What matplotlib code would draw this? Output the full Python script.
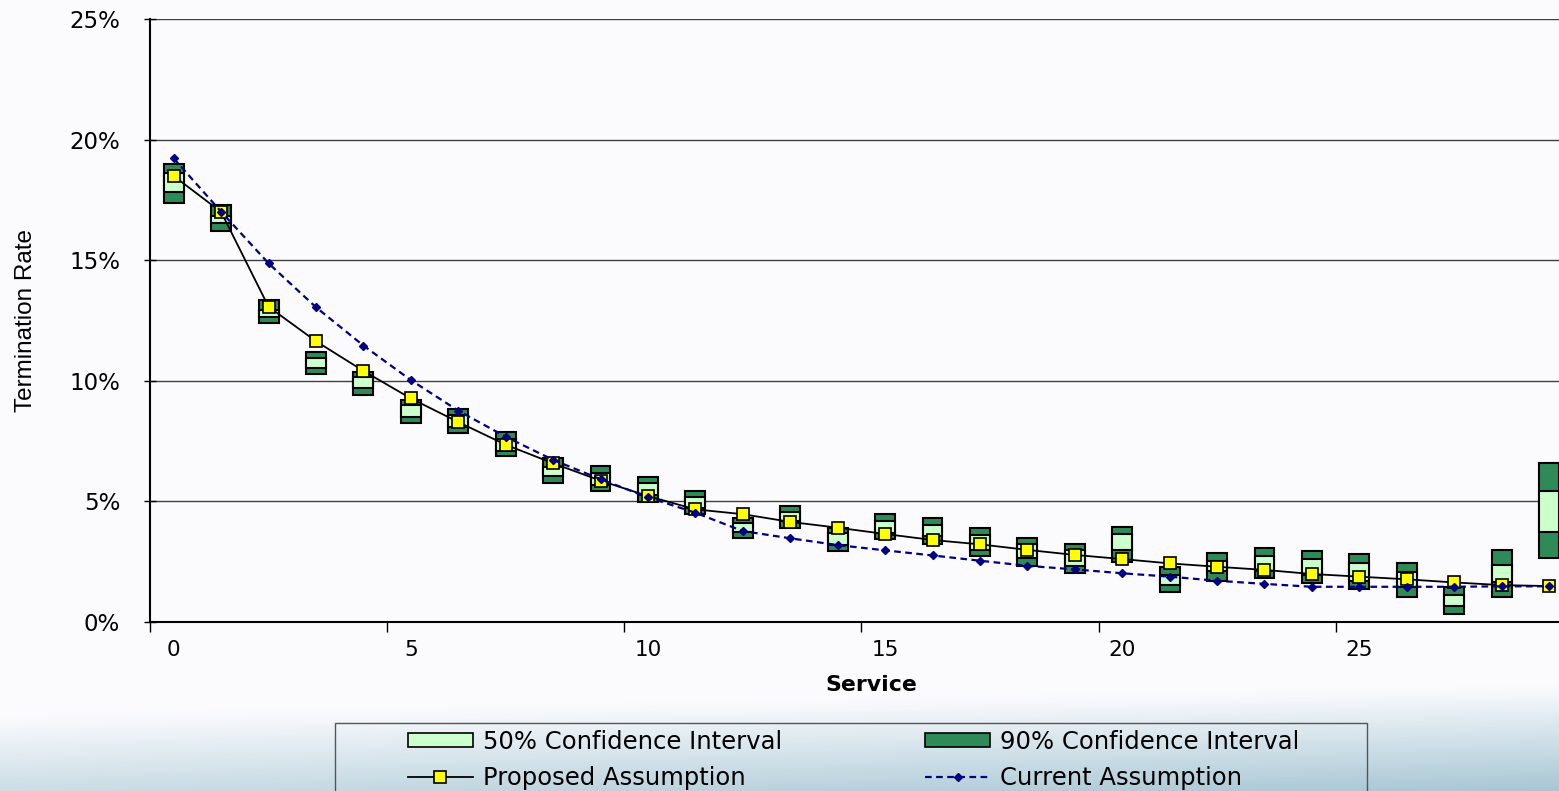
import numpy as np
import matplotlib
matplotlib.use('Agg')
from matplotlib import pyplot as plt
from matplotlib.patches import Patch, Rectangle
from matplotlib.lines import Line2D

# Data (termination rate in %)
service = np.arange(30)
proposed = [18.49, 17.00, 13.07, 11.64, 10.41, 9.27, 8.29, 7.35, 6.58, 5.86,
            5.22, 4.67, 4.47, 4.15, 3.91, 3.65, 3.40, 3.22, 2.99, 2.78,
            2.61, 2.43, 2.29, 2.16, 1.99, 1.88, 1.77, 1.64, 1.53, 1.49]
current = [19.22, 17.01, 14.87, 13.05, 11.46, 10.03, 8.76, 7.68, 6.72, 5.92,
           5.17, 4.53, 3.77, 3.47, 3.19, 2.97, 2.76, 2.54, 2.33, 2.18,
           2.02, 1.88, 1.71, 1.58, 1.46, 1.46, 1.46, 1.46, 1.48, 1.48]
lo90 = [17.36, 16.22, 12.38, 10.27, 9.41, 8.24, 7.85, 6.88, 5.78, 5.43,
        4.99, 4.48, 3.50, 3.88, 2.94, 3.43, 3.23, 2.74, 2.32, 2.04,
        2.50, 1.26, 1.71, 1.81, 1.60, 1.37, 1.05, 0.32, 1.05, 2.64]
lo50 = [17.84, 16.53, 12.66, 10.52, 9.69, 8.51, 8.10, 7.10, 6.05, 5.68,
        5.26, 4.72, 3.75, 4.17, 3.19, 3.70, 3.56, 3.00, 2.64, 2.32,
        2.99, 1.54, 2.10, 2.10, 1.95, 1.72, 1.46, 0.66, 1.67, 3.74]
hi50 = [18.60, 16.85, 12.95, 10.93, 10.17, 9.00, 8.58, 7.60, 6.44, 6.16,
        5.75, 5.17, 4.12, 4.57, 3.68, 4.20, 4.02, 3.61, 3.22, 2.99,
        3.64, 1.95, 2.54, 2.74, 2.60, 2.43, 2.09, 1.12, 2.36, 5.43]
hi90 = [19.00, 17.29, 13.35, 11.21, 10.38, 9.20, 8.82, 7.89, 6.81, 6.48,
        6.03, 5.43, 4.33, 4.82, 3.88, 4.48, 4.33, 3.88, 3.47, 3.23,
        3.93, 2.27, 2.85, 3.08, 2.96, 2.82, 2.46, 1.46, 2.98, 6.60]
yticks = [0, 5, 10, 15, 20, 25]
xlabels = [0, 5, 10, 15, 20, 25]

W, H = 1559, 791
fig = plt.figure(figsize=(W / 100, H / 100), dpi=100)
fig.patch.set_facecolor('#fbfbfe')

# slide background, fading to blue-grey at the bottom
bg = fig.add_axes([0, 0, 1, 1], zorder=-10)
yy = np.arange(H)[:, None]
xx = np.linspace(0, 1, W)[None, :]
start = 715 - 30 * xx
t = np.clip((yy - start) / (H - start), 0, 1)
top = np.array([251, 251, 254]) / 255
bot_left = np.array([203, 221, 229]) / 255
bot_right = np.array([166, 198, 212]) / 255
bottom = bot_left + (bot_right - bot_left) * xx[..., None]
img = top + (bottom - top) * t[..., None]
bg.imshow(img, aspect='auto', extent=[0, 1, 0, 1])
bg.axis('off')

ax = fig.add_axes([150 / W, 169 / H, 1409 / W, 603 / H])
ax.patch.set_alpha(0)

lo90 = np.array(lo90)
lo50 = np.array(lo50)
hi50 = np.array(hi50)
hi90 = np.array(hi90)

dark = '#2e8b57'
light = '#ccffcc'
ax.bar(service, hi90 - lo90, bottom=lo90, width=0.42, color=dark,
       edgecolor='black', linewidth=1.5, zorder=3)
ax.bar(service, hi50 - lo50, bottom=lo50, width=0.42, color=light,
       edgecolor='black', linewidth=1.5, zorder=3)

ax.plot(service, proposed, color='black', lw=1.3, marker='s', ms=8.5,
        mfc='#ffff00', mec='black', mew=1.2, zorder=4)
ax.plot(service, current, color='#000080', lw=1.6, ls=(0, (3, 2)),
        marker='D', ms=4.5, mfc='#000080', mec='#000080', zorder=5)

ax.set_xlim(-0.5, 29.21)
ax.set_ylim(0, 25)
ax.set_yticks(yticks)
ax.set_yticklabels([f'{v}%' for v in yticks])
ax.yaxis.grid(True, color='#404040', lw=1)
ax.set_axisbelow(True)

ax.set_xticks([-0.5, 4.5, 9.5, 14.5, 19.5, 24.5])
ax.set_xticklabels([])
ax.set_xticks(xlabels, minor=True)
ax.set_xticklabels([str(v) for v in xlabels], minor=True)
ax.tick_params(axis='x', which='major', direction='out', length=7, width=1)
ax.tick_params(axis='x', which='minor', length=0, pad=13, labelsize=15.5)
ax.tick_params(axis='y', direction='inout', length=9, width=1, pad=17,
               labelsize=16.5)

for s in ['top', 'right']:
    ax.spines[s].set_visible(False)
for s in ['left', 'bottom']:
    ax.spines[s].set_linewidth(1.5)
    ax.spines[s].set_color('black')

ax.set_ylabel('Termination Rate', fontsize=17.5, family='Liberation Sans')
ax.yaxis.set_label_coords(-0.080, 0.5)
ax.set_xlabel('Service', fontsize=15.8, fontweight='bold')
ax.xaxis.set_label_coords(0.512, -0.088)

# legend with its own frame
frame = Rectangle((335 / W, -0.01), (1367 - 335) / W, 0.01 + 1 - 723 / H,
                  fill=False, edgecolor='#555555', lw=1,
                  transform=fig.transFigure)
fig.add_artist(frame)

handles = [
    Patch(facecolor=light, edgecolor='black', lw=1.2),
    Line2D([], [], color='black', lw=1.3, marker='s', ms=8.5,
           mfc='#ffff00', mec='black', mew=1.2),
    Patch(facecolor=dark, edgecolor='black', lw=1.2),
    Line2D([], [], color='#000080', lw=1.6, ls=(0, (3, 2)), marker='D',
           ms=4.5, mfc='#000080', mec='#000080'),
]
labels = ['50% Confidence Interval', 'Proposed Assumption',
          '90% Confidence Interval', 'Current Assumption']
fig.legend(handles, labels, ncol=2, loc='upper left',
           bbox_to_anchor=(408 / W, 1 - 730 / H), frameon=False,
           borderpad=0, borderaxespad=0, fontsize=17.5, handlelength=2.67,
           handletextpad=0.41, columnspacing=5.9, labelspacing=0.5,
           handleheight=0.5)

fig.savefig('out.png', dpi=100)
